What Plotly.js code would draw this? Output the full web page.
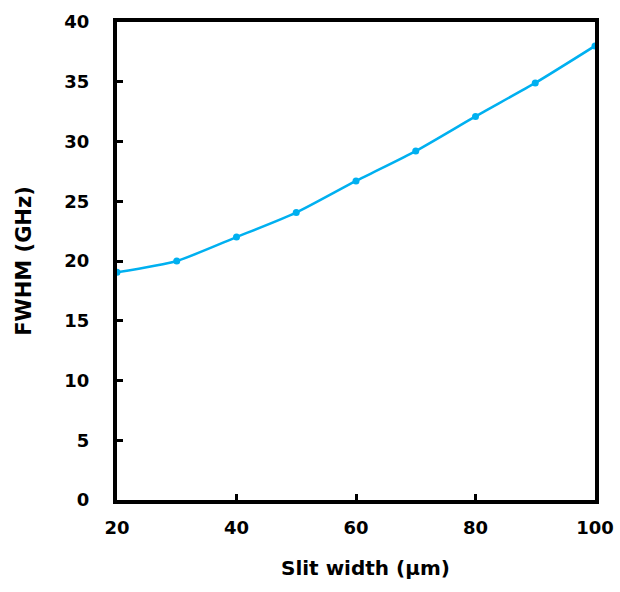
<!DOCTYPE html>
<html>
<head>
<meta charset="utf-8">
<script src="https://cdn.plot.ly/plotly-3.0.1.min.js"></script>
<style>html,body{margin:0;padding:0;background:#fff;}#chart{width:620px;height:592px;}</style>
</head>
<body>
<div id="chart"></div>
<script>
const slitWidth = [20, 30, 40, 50, 60, 70, 80, 90, 100];
const fwhm = [19.05, 20.0, 22.0, 24.05, 26.7, 29.2, 32.1, 34.9, 38.0];
const xTicks = [20, 40, 60, 80, 100];
const yTicks = [0, 5, 10, 15, 20, 25, 30, 35, 40];
const xTitle = 'Slit width (µm)';
const yTitle = 'FWHM (GHz)';

const FAM = 'DejaVu Sans, Liberation Sans, Arial, sans-serif';
const trace = {
  x: slitWidth, y: fwhm, type: 'scatter', mode: 'lines+markers',
  line: {color: '#00B0F0', width: 2.5, shape: 'spline', smoothing: 0.6},
  marker: {color: '#00B0F0', size: 7},
  cliponaxis: false
};
const layout = {
  width: 620, height: 592,
  margin: {l: 117, r: 25, t: 22, b: 92},
  paper_bgcolor: '#fff', plot_bgcolor: '#fff',
  showlegend: false,
  font: {family: FAM, color: '#000'},
  xaxis: {
    range: [20, 100], tickvals: xTicks, ticktext: xTicks.map(String),
    showgrid: false, zeroline: false,
    showline: true, linecolor: '#000', linewidth: 4, mirror: true,
    ticks: 'inside', ticklen: 6, tickwidth: 3, tickcolor: '#000',
    ticklabelstandoff: 8,
    tickfont: {family: FAM, size: 18, color: '#000', weight: 'bold'},
    automargin: false
  },
  yaxis: {
    range: [0, 40], tickvals: yTicks, ticktext: yTicks.map(String),
    showgrid: false, zeroline: false,
    showline: true, linecolor: '#000', linewidth: 4, mirror: true,
    ticks: 'inside', ticklen: 6, tickwidth: 3, tickcolor: '#000',
    ticklabelstandoff: 20,
    tickfont: {family: FAM, size: 18, color: '#000', weight: 'bold'},
    title: {text: '<b>' + yTitle + '</b>', font: {family: FAM, size: 21, color: '#000'}, standoff: 28},
    automargin: false
  },
  annotations: [{
    text: '<b>' + xTitle + '</b>', xref: 'paper', yref: 'paper',
    x: 0.519, y: -0.142, xanchor: 'center', yanchor: 'middle',
    showarrow: false, font: {family: FAM, size: 20, color: '#000'}
  }]
};
Plotly.newPlot('chart', [trace], layout, {displayModeBar: false, staticPlot: true});
</script>
</body>
</html>
